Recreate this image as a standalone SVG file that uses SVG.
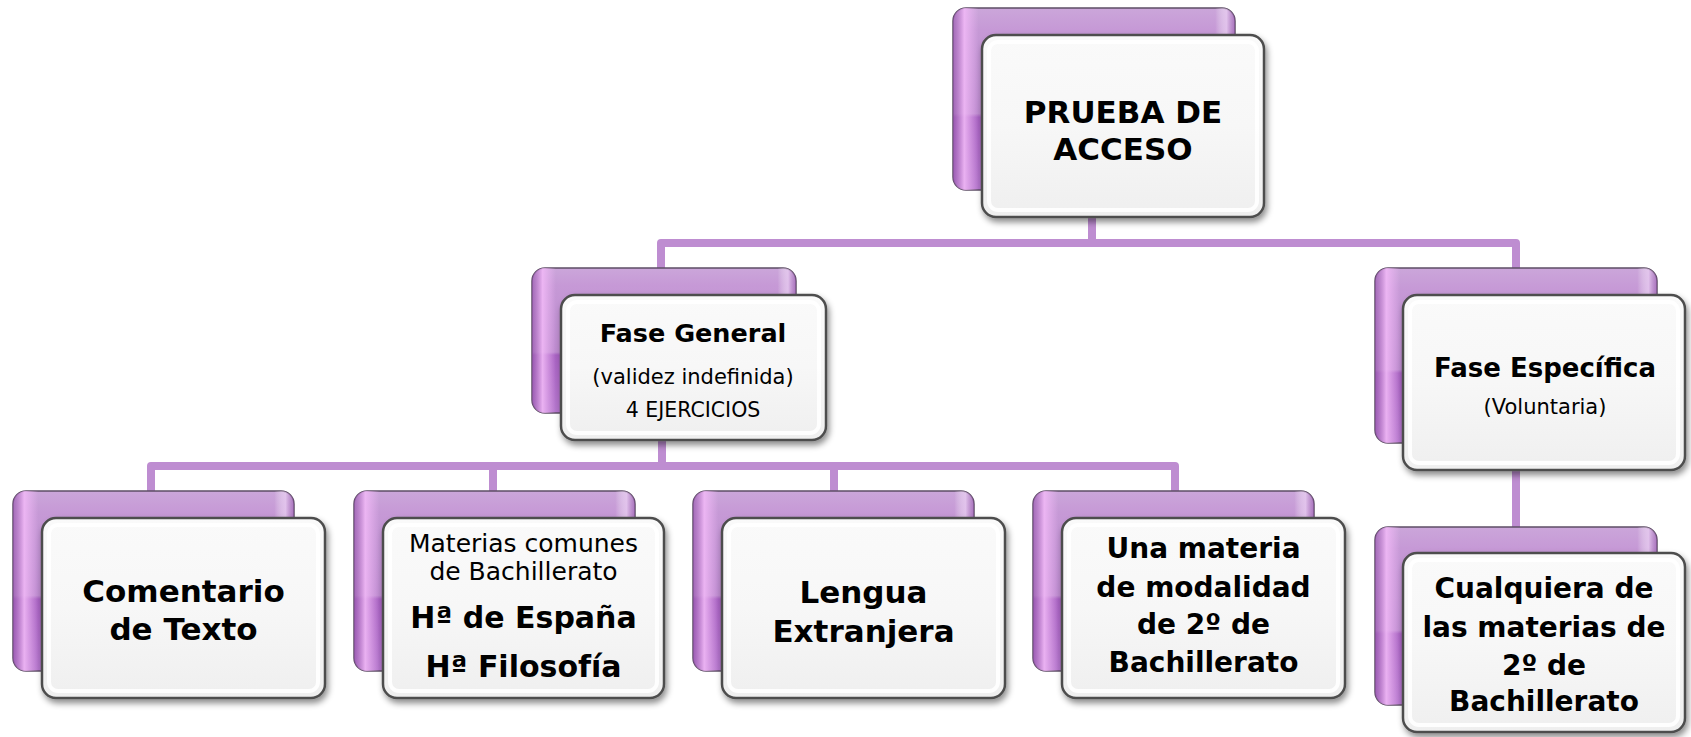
<svg xmlns="http://www.w3.org/2000/svg" width="1691" height="737" viewBox="0 0 1691 737">
<defs>
<linearGradient id="backG" x1="0" y1="0" x2="0" y2="1">
<stop offset="0" stop-color="#cba6da"/>
<stop offset="0.12" stop-color="#c699d6"/>
<stop offset="0.58" stop-color="#bd8bcf"/>
<stop offset="0.6" stop-color="#a862c2"/>
<stop offset="1" stop-color="#b476cc"/>
</linearGradient>
<linearGradient id="backSide" x1="0" y1="0" x2="1" y2="0">
<stop offset="0" stop-color="#8e4fa6" stop-opacity="0.6"/>
<stop offset="0.04" stop-color="#f0b8f6" stop-opacity="0.9"/>
<stop offset="0.09" stop-color="#f0b8f6" stop-opacity="0"/>
<stop offset="0.93" stop-color="#ffffff" stop-opacity="0"/>
<stop offset="0.97" stop-color="#ecd2f4" stop-opacity="0.7"/>
<stop offset="1" stop-color="#8e4fa6" stop-opacity="0.5"/>
</linearGradient>
<linearGradient id="frontG" x1="0" y1="0" x2="0" y2="1">
<stop offset="0" stop-color="#fafafa"/>
<stop offset="0.5" stop-color="#f7f7f7"/>
<stop offset="1" stop-color="#efefef"/>
</linearGradient>
<filter id="shadow" x="-10%" y="-10%" width="125%" height="130%">
<feDropShadow dx="2" dy="4" stdDeviation="3" flood-color="#000" flood-opacity="0.45"/>
</filter>
</defs>
<style>
.back{fill:url(#backG);stroke:#5e4d66;stroke-width:1.5}
.backhl{fill:url(#backSide);stroke:none}
.front{fill:url(#frontG);stroke:#4d4d4d;stroke-width:2.5;filter:url(#shadow)}
.bevel{fill:none;stroke:#ffffff;stroke-width:4;opacity:0.9}
.conn{fill:none;stroke:#be8dd1;stroke-width:8;stroke-linejoin:round}
text{font-family:"DejaVu Sans","Liberation Sans",sans-serif;fill:#000;text-anchor:middle}
.b{font-weight:bold}
</style>

<g id="connectors">
<path class="conn" d="M1092,217 V243 M661,268 V243 H1516 V268"/>
<path class="conn" d="M662,440 V466 M151,491 V466 H1175 V491 M493,466 V491 M834,466 V491"/>
<path class="conn" d="M1516,470 V527"/>
</g>

<g id="node-prueba">
<rect class="back" x="953" y="8" width="282" height="182" rx="13"/>
<rect class="backhl" x="953" y="8" width="282" height="182" rx="13"/>
<rect class="front" x="982" y="35" width="282" height="182" rx="14"/>
<rect class="bevel" x="989" y="42" width="268" height="168" rx="9"/>
<text class="b" x="1123" y="123" font-size="31">PRUEBA DE</text>
<text class="b" x="1123" y="160" font-size="31">ACCESO</text>
</g>

<g id="node-fase-general">
<rect class="back" x="532" y="268" width="264" height="145" rx="13"/>
<rect class="backhl" x="532" y="268" width="264" height="145" rx="13"/>
<rect class="front" x="561" y="295" width="265" height="145" rx="14"/>
<rect class="bevel" x="568" y="302" width="251" height="131" rx="9"/>
<text class="b" x="693" y="342" font-size="25.5">Fase General</text>
<text x="693" y="384" font-size="21">(validez indefinida)</text>
<text x="693" y="417" font-size="20.5">4 EJERCICIOS</text>
</g>

<g id="node-fase-especifica">
<rect class="back" x="1375" y="268" width="282" height="175" rx="13"/>
<rect class="backhl" x="1375" y="268" width="282" height="175" rx="13"/>
<rect class="front" x="1403" y="295" width="282" height="175" rx="14"/>
<rect class="bevel" x="1410" y="302" width="268" height="161" rx="9"/>
<text class="b" x="1545" y="377" font-size="26">Fase Específica</text>
<text x="1545" y="414" font-size="21">(Voluntaria)</text>
</g>

<g id="node-comentario">
<rect class="back" x="13" y="491" width="281" height="180" rx="13"/>
<rect class="backhl" x="13" y="491" width="281" height="180" rx="13"/>
<rect class="front" x="42" y="518" width="283" height="180" rx="14"/>
<rect class="bevel" x="49" y="525" width="269" height="166" rx="9"/>
<text class="b" x="183.5" y="602" font-size="31">Comentario</text>
<text class="b" x="183.5" y="640" font-size="31">de Texto</text>
</g>

<g id="node-materias">
<rect class="back" x="354" y="491" width="281" height="180" rx="13"/>
<rect class="backhl" x="354" y="491" width="281" height="180" rx="13"/>
<rect class="front" x="383" y="518" width="281" height="180" rx="14"/>
<rect class="bevel" x="390" y="525" width="267" height="166" rx="9"/>
<text x="523.5" y="552" font-size="25">Materias comunes</text>
<text x="523.5" y="580" font-size="25">de Bachillerato</text>
<text class="b" x="523.5" y="628" font-size="30">Hª de España</text>
<text class="b" x="523.5" y="677" font-size="30">Hª Filosofía</text>
</g>

<g id="node-lengua">
<rect class="back" x="693" y="491" width="281" height="180" rx="13"/>
<rect class="backhl" x="693" y="491" width="281" height="180" rx="13"/>
<rect class="front" x="722" y="518" width="283" height="180" rx="14"/>
<rect class="bevel" x="729" y="525" width="269" height="166" rx="9"/>
<text class="b" x="863.5" y="603" font-size="31">Lengua</text>
<text class="b" x="863.5" y="642" font-size="31">Extranjera</text>
</g>

<g id="node-una-materia">
<rect class="back" x="1033" y="491" width="281" height="180" rx="13"/>
<rect class="backhl" x="1033" y="491" width="281" height="180" rx="13"/>
<rect class="front" x="1062" y="518" width="283" height="180" rx="14"/>
<rect class="bevel" x="1069" y="525" width="269" height="166" rx="9"/>
<text class="b" x="1203.5" y="558" font-size="28">Una materia</text>
<text class="b" x="1203.5" y="597" font-size="28">de modalidad</text>
<text class="b" x="1203.5" y="634" font-size="28">de 2º de</text>
<text class="b" x="1203.5" y="672" font-size="28">Bachillerato</text>
</g>

<g id="node-cualquiera">
<rect class="back" x="1375" y="527" width="282" height="178" rx="13"/>
<rect class="backhl" x="1375" y="527" width="282" height="178" rx="13"/>
<rect class="front" x="1403" y="553" width="282" height="179" rx="14"/>
<rect class="bevel" x="1410" y="560" width="268" height="165" rx="9"/>
<text class="b" x="1544" y="598" font-size="28">Cualquiera de</text>
<text class="b" x="1544" y="637" font-size="28">las materias de</text>
<text class="b" x="1544" y="675" font-size="28">2º de</text>
<text class="b" x="1544" y="711" font-size="28">Bachillerato</text>
</g>
</svg>
